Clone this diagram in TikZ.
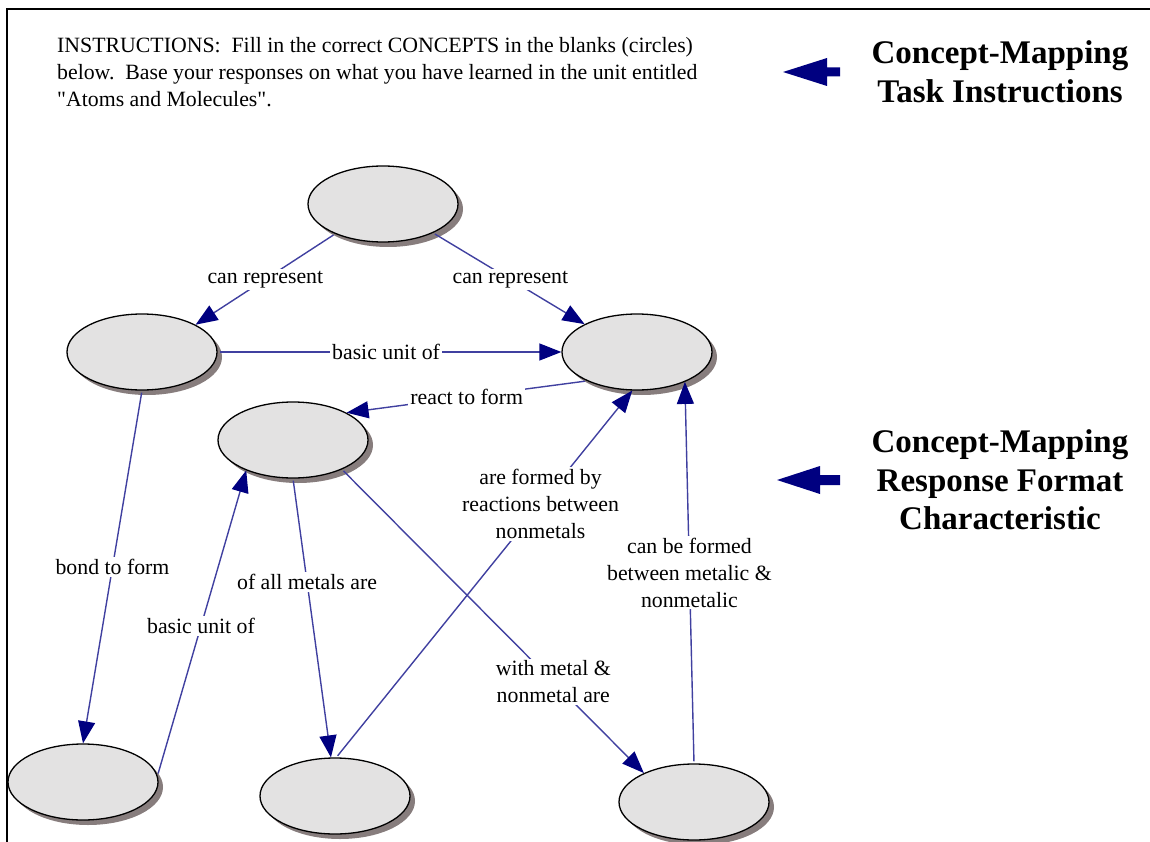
\documentclass[tikz,border=0pt]{standalone}
\usepackage{fontspec}
\setmainfont{Liberation Serif}
\usetikzlibrary{arrows.meta,shapes.geometric,shadows}
\definecolor{navy}{RGB}{0,0,128}
\definecolor{linkblue}{RGB}{64,64,160}
\definecolor{bubble}{RGB}{227,226,226}
\definecolor{shade}{RGB}{135,125,125}
\tikzset{
  concept/.style={ellipse, draw=black, line width=1.3pt, fill=bubble,
    minimum width=150pt, minimum height=76pt, inner sep=0pt,
    drop shadow={shadow xshift=5pt, shadow yshift=-5pt, fill=shade, opacity=1}},
  link/.style={draw=linkblue, line width=1.4pt, shorten <=2pt,
    -{Triangle[length=22pt,width=17pt,fill=navy,color=navy]}},
  lbl/.style={fill=white, inner sep=2pt, font=\fontsize{21.8}{27}\selectfont,
    align=center, text=black},
  title/.style={font=\fontsize{33}{38.5}\selectfont\bfseries, align=center}
}
\begin{document}
\begin{tikzpicture}[x=1pt,y=-1pt]
\useasboundingbox (0,0) rectangle (1150,842);
% page frame
\draw[line width=2pt] (1150,9) -- (7,9) -- (7,842);

% instructions
\node[anchor=north west, align=left, font=\fontsize{21.8}{27}\selectfont,
  inner sep=0pt] (instr) at (57,37)
  {INSTRUCTIONS:\ \ Fill in the correct CONCEPTS in the blanks (circles)\\
   below.\ \ Base your responses on what you have learned in the unit entitled\\
   \textquotedbl Atoms and Molecules\textquotedbl.};

% side captions with pointers
\node[title] (capA) at (1000,72) {Concept-Mapping\\Task Instructions};
\node[title] (capB) at (1000,480) {Concept-Mapping\\Response Format\\Characteristic};
\fill[navy] (783,72) -- (827,58) -- (827,67.5) -- (840,67.5) -- (840,76.5)
  -- (827,76.5) -- (827,86) -- cycle;
\fill[navy] (777,480) -- (820,466) -- (820,475) -- (840,475) -- (840,485)
  -- (820,485) -- (820,494) -- cycle;

% concept ellipses
\node[concept] (top) at (383,204) {};
\node[concept] (lm)  at (142,352) {};
\node[concept] (rm)  at (637,352) {};
\node[concept] (mid) at (293,440) {};
\node[concept] (bl)  at (83,782)  {};
\node[concept] (bm)  at (335,796) {};
\node[concept] (br)  at (694,802) {};

% links
\path[link] (top.212) -- node[lbl,pos=0.5]{can represent} (lm.27);
\path[link] (top.-30) -- node[lbl,pos=0.51]{can represent} (rm.152);
\path[link] (lm.east) -- node[lbl,pos=0.49]{basic unit of} (rm.west);
\path[link] (rm.210) -- node[lbl,pos=0.5]{react to form} (mid.27);
\path[link] (lm.south) -- node[lbl,pos=0.5]{bond to form} (bl.north);
\path[link] (bl.5) -- node[lbl,pos=0.49]{basic unit of} (mid.213);
\path[link] (mid.south) -- node[lbl,pos=0.37]{of all metals are} (bm.96);
\path[link] (bm.88) -- node[lbl,pos=0.69]{are formed by\\reactions between\\nonmetals} (rm.263);
\path[link] (mid.-31) -- node[lbl,pos=0.70]{with metal \&\\nonmetal are} (br.150);
\path[link] (br.north) -- node[lbl,pos=0.5]{can be formed\\between metalic \&\\nonmetalic} (rm.-32);
\end{tikzpicture}
\end{document}
